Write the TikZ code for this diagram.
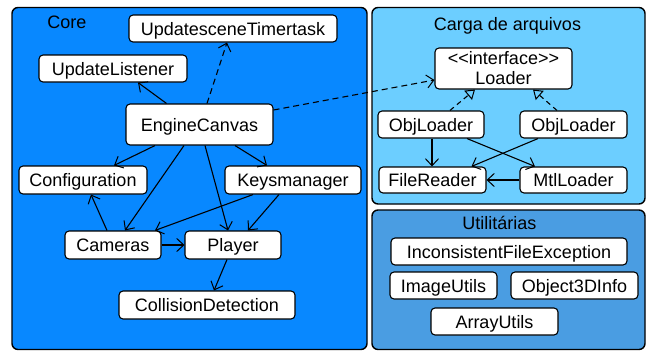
\documentclass[tikz,border=0pt]{standalone}
\usepackage{fontspec}
\setmainfont{Liberation Sans}
\usetikzlibrary{arrows.meta}
\definecolor{coreblue}{RGB}{8,136,255}
\definecolor{cargablue}{RGB}{108,206,255}
\definecolor{utilblue}{RGB}{74,157,226}
\begin{document}
\begin{tikzpicture}[x=1pt,y=-1pt,
  cls/.style={draw, fill=white, rounded corners=4pt, line width=1.1pt, minimum height=27pt,
    inner sep=0pt, text height=13pt, text depth=0pt, font=\fontsize{18}{20}\selectfont},
  grp/.style={draw, line width=1.4pt, rounded corners=6pt},
  ttl/.style={anchor=base, inner sep=0pt, font=\fontsize{18}{20}\selectfont},
  dep/.style={-{Straight Barb[length=7pt,width=13pt,line width=1pt]}, line width=1.1pt},
  dashdep/.style={dep, dash pattern=on 6pt off 4pt},
  real/.style={-{Triangle[open,length=9pt,width=12pt,line width=1pt]}, line width=1.1pt, dash pattern=on 5pt off 4pt}
]
\useasboundingbox (0,0) rectangle (649,351);
% containers
\draw[grp, fill=coreblue] (12,7.5) rectangle (367,349.5);
\draw[grp, fill=cargablue] (372,7.5) rectangle (645,204);
\draw[grp, fill=utilblue] (372,210) rectangle (645,349.5);
\node[ttl] (tcore) at (67,28) {Core};
\node[ttl] (tcarga) at (507.5,30) {Carga de arquivos};
\node[ttl] (tutil) at (499.5,229) {Utilitárias};
% core nodes
\node[cls, minimum width=208pt] (ust) at (233,28.5) {UpdatesceneTimertask};
\node[cls, minimum width=148pt] (ul) at (113,68.5) {UpdateListener};
\node[cls, minimum width=147pt, minimum height=41pt] (ec) at (199.5,124.5) {EngineCanvas};
\node[cls, minimum width=128pt, minimum height=28pt] (conf) at (83,180) {Configuration};
\node[cls, minimum width=136pt, minimum height=28pt] (keys) at (293,180) {Keysmanager};
\node[cls, minimum width=96pt, minimum height=28pt] (cam) at (113,245) {Cameras};
\node[cls, minimum width=96pt, minimum height=28pt] (player) at (233,245) {Player};
\node[cls, minimum width=176pt, minimum height=28pt] (coll) at (207,305) {CollisionDetection};
% carga nodes
\node[cls, minimum width=137pt, minimum height=41pt, align=center, text height=, text depth=] (loader) at (503.5,68.5) {<\kern0pt<\kern0pt interface>\kern0pt>\\Loader};
\node[cls, minimum width=106pt] (ol1) at (431,124.5) {ObjLoader};
\node[cls, minimum width=107pt] (ol2) at (573.5,124.5) {ObjLoader};
\node[cls, minimum width=107pt, minimum height=26pt] (fr) at (432.5,180) {FileReader};
\node[cls, minimum width=107pt, minimum height=26pt] (mtl) at (573.5,180) {MtlLoader};
% util nodes
\node[cls, minimum width=236pt] (ife) at (509,251.5) {InconsistentFileException};
\node[cls, minimum width=107pt] (img) at (443.5,285.5) {ImageUtils};
\node[cls, minimum width=127pt] (o3d) at (574.5,285.5) {Object3DInfo};
\node[cls, minimum width=127pt] (arr) at (494.5,321.5) {ArrayUtils};
% core edges
\draw[dep] ([xshift=-33pt]ec.north) -- ([xshift=25pt]ul.south);
\draw[dashdep] ([xshift=7.5pt]ec.north) -- ([xshift=-6pt]ust.south);
\draw[dashdep] ([yshift=14.5pt]ec.east) -- ([yshift=-11.5pt]loader.west);
\draw[dep] ([xshift=-44.5pt]ec.south) -- ([xshift=31pt]conf.north);
\draw[dep] ([xshift=-15.5pt]ec.south) -- ([xshift=12pt]cam.north);
\draw[dep] ([xshift=5.5pt]ec.south) -- ([xshift=-5pt]player.north);
\draw[dep] ([xshift=35.5pt]ec.south) -- ([xshift=-26pt]keys.north);
\draw[dep] ([xshift=-40pt]keys.south) -- ([xshift=42pt]cam.north);
\draw[dep] ([xshift=-14pt]keys.south) -- ([xshift=15pt]player.north);
\draw[dep] ([xshift=-6pt]cam.north) -- ([xshift=8pt]conf.south);
\draw[dep] (cam.east) -- (player.west);
\draw[dep] ([xshift=-6pt]player.south) -- ([xshift=7pt]coll.north);
% carga edges
\draw[real] ([xshift=19pt]ol1.north) -- ([xshift=-28.5pt]loader.south);
\draw[real] ([xshift=-16.5pt]ol2.north) -- ([xshift=29.5pt]loader.south);
\draw[dep] ([xshift=1pt]ol1.south) -- ([xshift=-0.5pt]fr.north);
\draw[dep] ([xshift=36pt]ol1.south) -- ([xshift=-38.5pt]mtl.north);
\draw[dep] ([xshift=-35.5pt]ol2.south) -- ([xshift=39pt]fr.north);
\draw[dep] (mtl.west) -- (fr.east);
\end{tikzpicture}
\end{document}
